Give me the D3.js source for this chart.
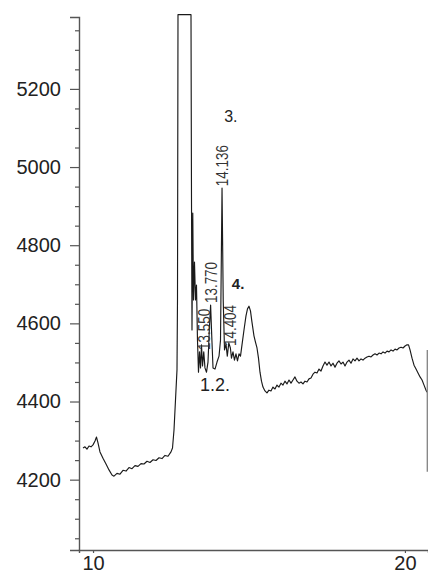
<!DOCTYPE html>
<html>
<head>
<meta charset="utf-8">
<script src="https://cdn.jsdelivr.net/npm/d3@7"></script>
<style>
  html, body { margin: 0; padding: 0; background: #fff; }
  svg { display: block; }
</style>
</head>
<body>
<svg id="chart" width="428" height="573"></svg>
<script>
// Retention time (min) of each detector sample
const time = [
  9.678, 9.742, 9.806, 9.871, 9.935, 9.999, 10.063, 10.111, 10.159, 10.223,
  10.319, 10.416, 10.512, 10.608, 10.672, 10.768, 10.864, 10.961, 11.057, 11.153,
  11.249, 11.345, 11.442, 11.538, 11.634, 11.730, 11.826, 11.923, 12.019, 12.115,
  12.211, 12.307, 12.404, 12.500, 12.548, 12.596, 12.644, 12.692, 12.708, 12.724,
  13.141, 13.157, 13.173, 13.198, 13.221, 13.253, 13.285, 13.317, 13.349, 13.381,
  13.413, 13.446, 13.478, 13.510, 13.550, 13.589, 13.638, 13.686, 13.728, 13.770,
  13.805, 13.847, 13.911, 13.975, 14.039, 14.087, 14.136, 14.174, 14.216, 14.263,
  14.305, 14.353, 14.404, 14.439, 14.487, 14.535, 14.583, 14.631, 14.680, 14.728,
  14.776, 14.840, 14.904, 14.952, 15.000, 15.048, 15.096, 15.160, 15.208, 15.257,
  15.305, 15.353, 15.401, 15.449, 15.513, 15.577, 15.641, 15.705, 15.769, 15.833,
  15.898, 15.962, 16.026, 16.090, 16.154, 16.218, 16.283, 16.347, 16.411, 16.475,
  16.539, 16.603, 16.668, 16.732, 16.796, 16.860, 16.924, 16.988, 17.052, 17.117,
  17.181, 17.245, 17.309, 17.373, 17.437, 17.501, 17.566, 17.630, 17.694, 17.758,
  17.822, 17.886, 17.951, 18.015, 18.079, 18.143, 18.207, 18.271, 18.336, 18.400,
  18.464, 18.528, 18.592, 18.656, 18.721, 18.785, 18.849, 18.913, 18.977, 19.041,
  19.106, 19.170, 19.234, 19.298, 19.362, 19.426, 19.491, 19.555, 19.619, 19.683,
  19.747, 19.811, 19.876, 19.940, 20.004, 20.068, 20.116, 20.164, 20.228, 20.292,
  20.356, 20.420, 20.485, 20.549, 20.613, 20.677, 20.709
];

// Detector response at each sample (5390 = detector saturated)
const signal = [
  4281, 4284, 4278, 4286, 4284, 4289, 4299, 4309, 4294, 4271,
  4255, 4240, 4225, 4212, 4209, 4216, 4214, 4224, 4222, 4231,
  4228, 4236, 4234, 4241, 4240, 4247, 4244, 4251, 4249, 4256,
  4254, 4262, 4260, 4271, 4281, 4327, 4404, 4481, 4660, 5390,
  5390, 4916, 4583, 4882, 4660, 4757, 4660, 4698, 4557, 4475,
  4527, 4486, 4545, 4491, 4527, 4486, 4475, 4501, 4583, 4647,
  4570, 4486, 4483, 4501, 4516, 4557, 4946, 4660, 4532, 4547,
  4516, 4550, 4537, 4511, 4527, 4506, 4522, 4504, 4522, 4516,
  4545, 4583, 4619, 4637, 4644, 4632, 4603, 4568, 4552, 4537,
  4511, 4475, 4452, 4437, 4427, 4422, 4429, 4427, 4437, 4432,
  4442, 4437, 4447, 4442, 4452, 4445, 4455, 4447, 4455, 4463,
  4452, 4447, 4450, 4445, 4452, 4450, 4458, 4460, 4470, 4475,
  4473, 4483, 4478, 4491, 4501, 4493, 4501, 4491, 4498, 4488,
  4498, 4504, 4496, 4501, 4491, 4501, 4506, 4498, 4509, 4504,
  4511, 4504, 4509, 4506, 4511, 4514, 4516, 4514, 4519, 4522,
  4519, 4524, 4522, 4527, 4524, 4529, 4527, 4532, 4529, 4534,
  4532, 4537, 4539, 4537, 4542, 4545, 4545, 4532, 4511, 4493,
  4483, 4473, 4463, 4455, 4442, 4429, 4424
];

// Integrated peaks: retention time label and apex response
const peakTimes = ["13.550", "13.770", "14.136", "14.404"];
const peakApex = [4527, 4647, 4946, 4537];

// Compound numbers written next to the peaks
const compoundLabels = ["1.2.", "3.", "4."];
const compoundTimes = [13.91, 14.42, 14.65];
const compoundLevels = [4428, 5115, 4688];

// Axis ticks
const xTicks = [10, 20];
const yMajorTicks = [4200, 4400, 4600, 4800, 5000, 5200];
const yMinorTicks = [4050, 4100, 4150, 4250, 4300, 4350, 4450, 4500, 4550, 4650,
                     4700, 4750, 4850, 4900, 4950, 5050, 5100, 5150, 5250, 5300, 5350];

// Cut edge of the next panel at the right border
const edgeTime = 20.72;
const edgeRange = [4220, 4532];

const svg = d3.select("#chart");
const W = 428, H = 573;
const plot = { left: 79, right: 428, top: 17, bottom: 550 };

svg.append("rect").attr("width", W).attr("height", H).attr("fill", "#fff");

const x = d3.scaleLinear().domain([9.55, 20.74]).range([plot.left, plot.right]);
const y = d3.scaleLinear().domain([4020, 5384]).range([plot.bottom, plot.top]);

const font = "'Liberation Sans', Arial, Helvetica, sans-serif";

// Y axis: major ticks with labels, minor ticks without
svg.append("g").attr("transform", `translate(${plot.left},0)`)
  .call(d3.axisLeft(y).tickValues(yMajorTicks).tickSize(9).tickPadding(9).tickFormat(d3.format("d")));
svg.append("g").attr("transform", `translate(${plot.left},0)`)
  .call(d3.axisLeft(y).tickValues(yMinorTicks).tickSize(4).tickFormat(""))
  .select(".domain").remove();

// X axis
svg.append("g").attr("transform", `translate(0,${plot.bottom})`)
  .call(d3.axisBottom(x).tickValues(xTicks).tickSize(3).tickPadding(3).tickFormat(d3.format("d")));

svg.selectAll(".domain").attr("stroke", "#555").attr("stroke-width", 1.4);
svg.selectAll(".tick line").attr("stroke", "#555").attr("stroke-width", 1.2);
svg.selectAll(".tick text")
  .attr("font-family", font).attr("font-size", 20).attr("fill", "#222");

// Chromatogram trace
const trace = time.map((t, i) => [t, signal[i]]);
svg.append("path")
  .datum(trace)
  .attr("fill", "none")
  .attr("stroke", "#1a1a1a")
  .attr("stroke-width", 1.15)
  .attr("stroke-linejoin", "round")
  .attr("d", d3.line().x(d => x(d[0])).y(d => y(d[1])));

// Right border edge
svg.append("line")
  .attr("x1", x(edgeTime)).attr("x2", x(edgeTime))
  .attr("y1", y(edgeRange[0])).attr("y2", y(edgeRange[1]))
  .attr("stroke", "#888").attr("stroke-width", 1.5);

// Retention-time labels, rotated, rising from each peak apex
peakTimes.forEach((lab, i) => {
  const px = x(+lab), py = y(peakApex[i]) - 2;
  svg.append("text")
    .attr("transform", `translate(${px},${py}) rotate(-90)`)
    .attr("dy", "0.36em")
    .attr("font-family", font)
    .attr("font-size", 16.5)
    .attr("textLength", 41)
    .attr("lengthAdjust", "spacingAndGlyphs")
    .attr("fill", "#333")
    .text(lab);
});

// Compound numbers
const compoundSizes = [18, 16, 15];
const compoundWeights = ["normal", "normal", "bold"];
compoundLabels.forEach((lab, i) => {
  svg.append("text")
    .attr("x", x(compoundTimes[i]))
    .attr("y", y(compoundLevels[i]))
    .attr("text-anchor", "middle")
    .attr("font-family", font)
    .attr("font-size", compoundSizes[i])
    .attr("font-weight", compoundWeights[i])
    .attr("fill", "#222")
    .text(lab);
});
</script>
</body>
</html>
